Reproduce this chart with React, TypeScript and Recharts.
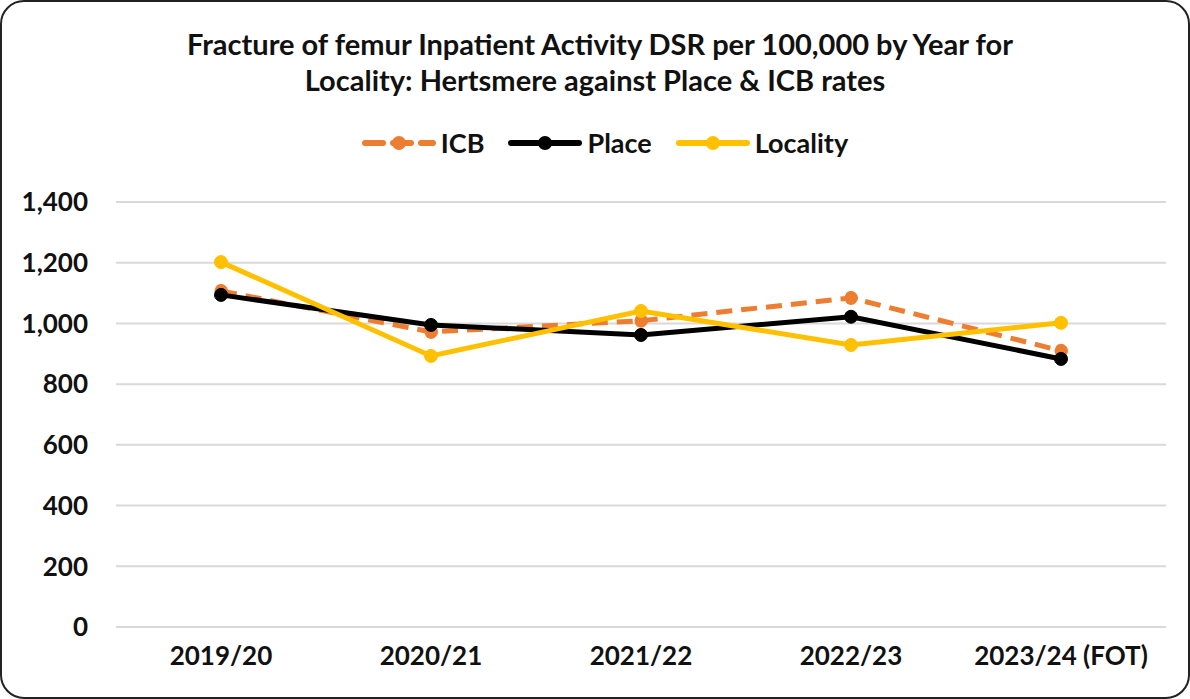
import { LineChart, Line, XAxis, YAxis, CartesianGrid } from 'recharts';

const years = ['2019/20', '2020/21', '2021/22', '2022/23', '2023/24 (FOT)'];
const icb = [1107, 972, 1009, 1084, 910];
const place = [1094, 995, 962, 1022, 883];
const locality = [1202, 893, 1041, 929, 1002];
const yTicks = [0, 200, 400, 600, 800, 1000, 1200, 1400];

const series = [
  { key: 'ICB', color: '#ED7D31', dash: '16 9' },
  { key: 'Place', color: '#000000', dash: undefined },
  { key: 'Locality', color: '#FFC000', dash: undefined },
];

const data = years.map((year, i) => ({
  year,
  ICB: icb[i],
  Place: place[i],
  Locality: locality[i],
}));

const font = 'Lato, "Open Sans", sans-serif';

const fmt = (v: number) => new Intl.NumberFormat('en-GB').format(v);

function LegendBox() {
  return (
    <div style={{ position: 'absolute', left: 10, top: 126, width: 1190, display: 'flex', justifyContent: 'center', alignItems: 'center', gap: 24, fontFamily: font, fontWeight: 700, fontSize: 27, color: '#111' }}>
      {series.map((s) => (
        <div key={s.key} style={{ display: 'flex', alignItems: 'center', gap: 5 }}>
          <svg width={74} height={16}>
            <line x1={3} y1={8} x2={71} y2={8} stroke={s.color} strokeWidth={6} strokeDasharray={s.dash ? '18 10' : undefined} strokeLinecap="round" />
            <circle cx={37} cy={8} r={7} fill={s.color} />
          </svg>
          <span>{s.key}</span>
        </div>
      ))}
    </div>
  );
}

export default function App() {
  return (
    <div style={{ position: 'absolute', left: 0, top: 0, width: 1190, height: 699, background: '#fff' }}>
      <div style={{ position: 'absolute', left: 0, top: 26, width: 1190, textAlign: 'center', fontFamily: font, fontWeight: 700, fontSize: 29, lineHeight: '36px', color: '#111' }}>
        <div style={{ marginLeft: 10 }}>Fracture of femur Inpatient Activity DSR per 100,000 by Year for</div>
        <div>Locality: Hertsmere against Place &amp; ICB rates</div>
      </div>
      <LegendBox />
      <LineChart style={{ position: 'absolute', left: 0, top: 0 }} width={1190} height={699} data={data} margin={{ top: 202, right: 24, bottom: 0, left: 0 }}>
        <CartesianGrid vertical={false} stroke="#d9d9d9" strokeWidth={2} />
        <XAxis
          dataKey="year"
          height={72}
          padding={{ left: 105, right: 105 }}
          axisLine={{ stroke: '#d9d9d9', strokeWidth: 2 }}
          tickLine={false}
          tickMargin={14}
          tick={{ fill: '#111', fontSize: 26, fontWeight: 700, fontFamily: font }}
        />
        <YAxis
          width={116}
          domain={[0, 1400]}
          ticks={yTicks}
          axisLine={false}
          tickLine={false}
          tickMargin={22}
          tickFormatter={fmt}
          tick={{ fill: '#111', fontSize: 26, fontWeight: 700, fontFamily: font }}
        />
        {series.map((s) => (
          <Line
            key={s.key}
            type="linear"
            dataKey={s.key}
            stroke={s.color}
            strokeWidth={5}
            strokeDasharray={s.dash}
            dot={{ r: 6.5, fill: s.color, stroke: s.color, strokeWidth: 1 }}
            isAnimationActive={false}
          />
        ))}
      </LineChart>
      <div style={{ position: 'absolute', left: 0, top: 0, width: 1190, height: 699, boxSizing: 'border-box', border: '2px solid #222', borderRadius: 24, pointerEvents: 'none' }} />
    </div>
  );
}
